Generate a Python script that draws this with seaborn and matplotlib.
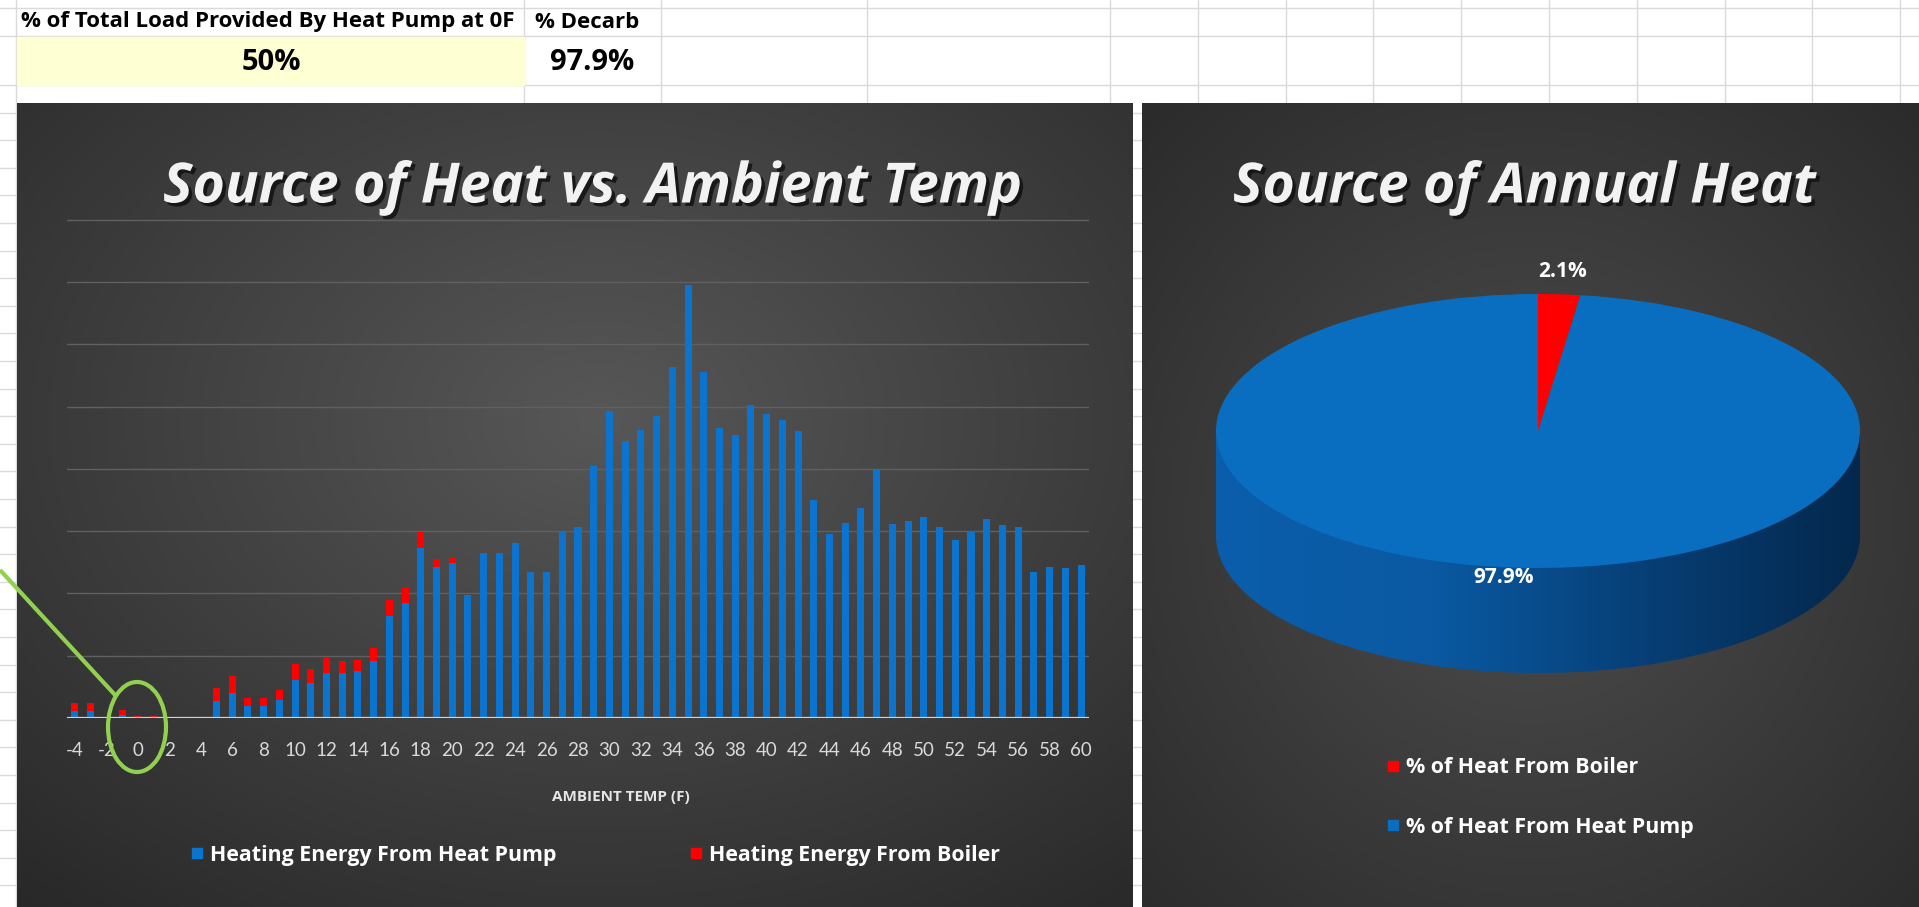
import numpy as np
import pandas as pd
import seaborn as sns
import matplotlib.pyplot as plt
import matplotlib.patheffects as pe
from matplotlib.colors import LinearSegmentedColormap
from matplotlib.patches import Rectangle, Ellipse
from matplotlib.lines import Line2D

sns.set_theme(style='dark')
plt.rcParams['font.family'] = ['Lato', 'DejaVu Sans']
BOLD = ['Open Sans', 'DejaVu Sans']  # Lato has no bold face here

# ---- data ----
temps = [-4, -3, -2, -1, 0, 1, 2, 3, 4, 5, 6, 7, 8, 9, 10, 11, 12, 13, 14, 15,
         16, 17, 18, 19, 20, 21, 22, 23, 24, 25, 26, 27, 28, 29, 30, 31, 32, 33,
         34, 35, 36, 37, 38, 39, 40, 41, 42, 43, 44, 45, 46, 47, 48, 49, 50, 51,
         52, 53, 54, 55, 56, 57, 58, 59, 60]
hp_energy = [0.11, 0.11, 0.01, 0.05, 0.02, 0.02, 0.00, 0.01, 0.00, 0.27,
             0.40, 0.19, 0.19, 0.29, 0.61, 0.56, 0.72, 0.72, 0.75, 0.91,
             1.63, 1.84, 2.73, 2.43, 2.48, 1.98, 2.65, 2.65, 2.81, 2.35,
             2.35, 2.99, 3.07, 4.04, 4.92, 4.45, 4.63, 4.84, 5.64, 6.95,
             5.56, 4.65, 4.55, 5.03, 4.88, 4.79, 4.60, 3.50, 2.96, 3.13,
             3.37, 3.99, 3.11, 3.17, 3.22, 3.06, 2.86, 2.99, 3.19, 3.09,
             3.07, 2.35, 2.43, 2.41, 2.46]
boiler_energy = [0.13, 0.13, 0.01, 0.08, 0.02, 0.01, 0.00, 0.01, 0.00, 0.21,
                 0.27, 0.13, 0.13, 0.16, 0.25, 0.22, 0.24, 0.19, 0.18, 0.21,
                 0.27, 0.25, 0.26, 0.12, 0.09, 0.00, 0.00, 0.00, 0.00, 0.00,
                 0.00, 0.00, 0.00, 0.00, 0.00, 0.00, 0.00, 0.00, 0.00, 0.00,
                 0.00, 0.00, 0.00, 0.00, 0.00, 0.00, 0.00, 0.00, 0.00, 0.00,
                 0.00, 0.00, 0.00, 0.00, 0.00, 0.00, 0.00, 0.00, 0.00, 0.00,
                 0.00, 0.00, 0.00, 0.00, 0.00]
pie_labels = ['% of Heat From Boiler', '% of Heat From Heat Pump']
pie_vals = [2.1, 97.9]
header_label = '% of Total Load Provided By Heat Pump at 0F'
header_value = '50%'
decarb_label = '% Decarb'
decarb_value = '97.9%'

BLUE = '#0b74cf'
PIE_BLUE = '#0a6ec0'
RED = '#ff0000'
W, H = 1919, 907

df = pd.DataFrame({'temp': temps, 'hp': hp_energy, 'boiler': boiler_energy})
df['total'] = df['hp'] + df['boiler']

fig = plt.figure(figsize=(W / 100, H / 100), dpi=100)
fig.patch.set_facecolor('white')


def px_axes(z):
    a = fig.add_axes([0, 0, 1, 1], zorder=z)
    a.set_xlim(0, W)
    a.set_ylim(H, 0)
    a.axis('off')
    a.patch.set_alpha(0)
    return a


def panel(a, x0, x1, y0, y1, cx, cy, c_in, c_out):
    xs = np.linspace(x0, x1, 400)
    ys = np.linspace(y0, y1, 400)
    X, Y = np.meshgrid(xs, ys)
    r = np.sqrt(((X - cx) / (x1 - x0)) ** 2 + ((Y - cy) / (y1 - y0)) ** 2)
    r = r / r.max()
    cmap = LinearSegmentedColormap.from_list('p', [c_in, c_out])
    a.imshow(r, extent=(x0, x1, y1, y0), cmap=cmap, aspect='auto', zorder=1)


# ---- spreadsheet background ----
bg = px_axes(0)
grid_c = '#dadada'
for x in [16, 524, 661, 867, 1110, 1198, 1286, 1373, 1461, 1549, 1637, 1725, 1812, 1900]:
    bg.axvline(x, color=grid_c, lw=1, zorder=0)
for y in [8, 36] + list(np.arange(85, H, 27.6)):
    bg.axhline(y, color=grid_c, lw=1, zorder=0)
bg.add_patch(Rectangle((17, 37), 507, 48, color='#ffffd4', zorder=0.5))
bg.text(21, 22, header_label, fontsize=16, fontweight='bold', family=BOLD, va='center', color='black')
bg.text(535, 22, decarb_label, fontsize=16, fontweight='bold', family=BOLD, va='center', color='black')
bg.text(271, 63, header_value, fontsize=21, fontweight='bold', family=BOLD, ha='center', va='center', color='black')
bg.text(592, 63, decarb_value, fontsize=21, fontweight='bold', family=BOLD, ha='center', va='center', color='black')

panel(bg, 17, 1133, 103, 907, 600, 420, '#575757', '#282828')
panel(bg, 1142, 1919, 103, 907, 1530, 520, '#4d4d4d', '#2b2b2b')
bg.set_xlim(0, W)
bg.set_ylim(H, 0)

shadow = [pe.withSimplePatchShadow(offset=(2.5, -2.5), shadow_rgbFace='#111111', alpha=0.85)]
bg.text(592, 188, 'Source of Heat vs. Ambient Temp', fontsize=40, fontweight='bold',
        style='italic', family=BOLD, color='#f2f2f2', ha='center', va='center',
        path_effects=shadow, zorder=3)
bg.text(1524, 188, 'Source of Annual Heat', fontsize=40, fontweight='bold',
        style='italic', family=BOLD, color='#f2f2f2', ha='center', va='center',
        path_effects=shadow, zorder=3)
bg.text(621, 797, 'AMBIENT TEMP (F)', fontsize=11, fontweight='bold', family=BOLD,
        color='#e6e6e6', ha='center', va='center', zorder=3)

# ---- stacked bar chart ----
unit = 62.3
ax = fig.add_axes([67.1 / W, 1 - 718 / H, (1088.9 - 67.1) / W, 8.03 * unit / H], zorder=2)
ax.patch.set_alpha(0)
sns.barplot(data=df, x='temp', y='total', color=RED, width=0.45, saturation=1,
            errorbar=None, linewidth=0, edgecolor='none', ax=ax)
sns.barplot(data=df, x='temp', y='hp', color=BLUE, width=0.45, saturation=1,
            errorbar=None, linewidth=0, edgecolor='none', ax=ax)
ax.set_xlim(-0.5, len(temps) - 0.5)
ax.set_ylim(0, 8.03)
ax.set_yticks(range(1, 9))
ax.set_yticklabels([])
ax.tick_params(axis='y', length=0)
ax.grid(axis='y', color='#606060', lw=1)
ax.grid(axis='x', visible=False)
ax.set_axisbelow(True)
for s in ax.spines.values():
    s.set_visible(False)
ax.axhline(0, color='#d4d4d4', lw=1.6)
ax.set_xticks(range(0, len(temps), 2))
ax.set_xticklabels([str(t) for t in temps[::2]])
ax.tick_params(axis='x', length=0, pad=17, colors='#d9d9d9', labelsize=13.5)
ax.set_xlabel('')
ax.set_ylabel('')

bar_handles = [Line2D([], [], marker='s', ls='', color=BLUE, markersize=7),
               Line2D([], [], marker='s', ls='', color=RED, markersize=7)]
ax.legend(bar_handles, ['Heating Energy From Heat Pump', 'Heating Energy From Boiler'],
          ncol=2, loc='center left', bbox_to_anchor=(171 / W, 1 - 855 / H),
          bbox_transform=fig.transFigure, frameon=False, columnspacing=6.25,
          handlelength=0.6, handletextpad=0.3, labelcolor='white',
          prop={'family': BOLD, 'weight': 'bold', 'size': 15.4})

# ---- 3D-looking pie ----
depth = 105 / 137
pax = fig.add_axes([1216 / W, 1 - 673 / H, 644 / W, 379 / H], zorder=2)
side_cmap = LinearSegmentedColormap.from_list('side', ['#0b5eab', '#0a59a2', '#073f76', '#04284c'])
grad = np.linspace(0, 1, 256)[None, :]
bottom, _ = pax.pie(pie_vals, startangle=90, counterclock=False, center=(0, -depth),
                    colors=['none', 'none'], wedgeprops=dict(linewidth=0))
rect = Rectangle((-1, -depth), 2, depth, facecolor='none', edgecolor='none')
pax.add_patch(rect)
for clip in list(bottom) + [rect]:
    im = pax.imshow(grad, extent=(-1, 1, -1 - depth, 0), cmap=side_cmap, aspect='auto', zorder=1)
    im.set_clip_path(clip)
wedges, texts, autotexts = pax.pie(
    pie_vals, colors=[RED, PIE_BLUE], startangle=90, counterclock=False,
    autopct='%1.1f%%', pctdistance=1.0,
    textprops=dict(color='white', fontsize=15, fontweight='bold', family=BOLD),
    wedgeprops=dict(linewidth=0, zorder=2))
for t in autotexts:
    t.set_zorder(5)
bx, by = autotexts[0].get_position()
autotexts[0].set_position((bx * 1.17, by * 1.17))
hx, hy = autotexts[1].get_position()
autotexts[1].set_position((hx * 1.6, hy * 1.07))
pax.set_aspect('auto')
pax.set_xlim(-1, 1)
pax.set_ylim(-1 - depth, 1)
pax.axis('off')

pie_handles = [Line2D([], [], marker='s', ls='', color=RED, markersize=7),
               Line2D([], [], marker='s', ls='', color=PIE_BLUE, markersize=7)]
pax.legend(pie_handles, pie_labels, loc='upper left', bbox_to_anchor=(1367 / W, 1 - 738 / H),
           bbox_transform=fig.transFigure, frameon=False, labelspacing=1.8,
           handlelength=0.6, handletextpad=0.3, labelcolor='white',
           prop={'family': BOLD, 'weight': 'bold', 'size': 15.4})

# ---- green callout drawn over the chart ----
top = px_axes(10)
top.plot([0, 116], [570, 696], color='#92d050', lw=3, solid_capstyle='butt')
top.add_patch(Ellipse((137, 727), 58, 90, fill=False, edgecolor='#92d050', lw=3))

fig.savefig('out.png', dpi=100)
